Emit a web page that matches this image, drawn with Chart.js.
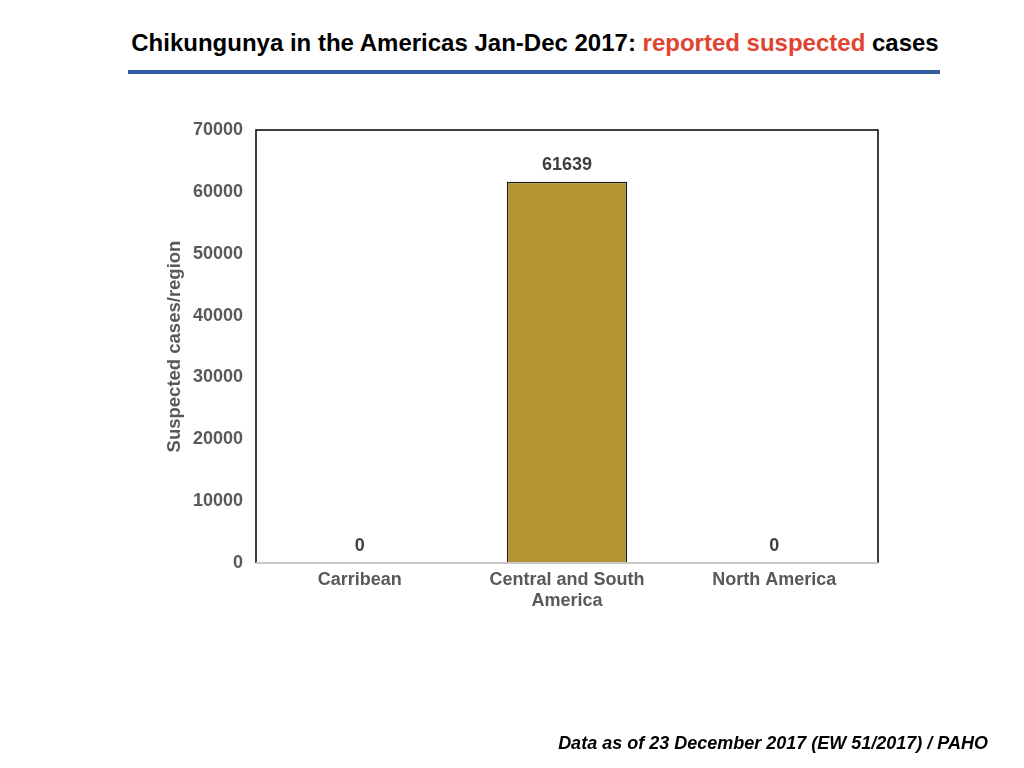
<!DOCTYPE html>
<html>
<head>
<meta charset="utf-8">
<script src="https://cdn.jsdelivr.net/npm/chart.js@4.4.0/dist/chart.umd.min.js"></script>
<style>
  html, body { margin: 0; padding: 0; background: #fff; }
  body { width: 1024px; height: 768px; position: relative; overflow: hidden; font-family: "Liberation Sans", Arial, sans-serif; }
  #title { position: absolute; top: 29px; left: 0; width: 1070px; text-align: center; font-size: 24px; font-weight: bold; color: #000; }
  #title span { color: #e2432f; }
  #rule { position: absolute; top: 70px; left: 128px; width: 812px; height: 4px; background: #2e5c9c; }
  #footer { position: absolute; top: 733px; right: 36px; font-size: 18px; font-weight: bold; font-style: italic; color: #000; }
  #chart { position: absolute; left: 0; top: 0; }
</style>
</head>
<body>
<div id="title">Chikungunya in the Americas Jan-Dec 2017: <span>reported suspected</span> cases</div>
<div id="rule"></div>
<canvas id="chart" width="1024" height="768"></canvas>
<div id="footer">Data as of 23 December 2017 (EW 51/2017) / PAHO</div>

<script>
// данные
const regions = [['Carribean'], ['Central and South', 'America'], ['North America']];
const cases = [0, 61639, 0];
const yTicks = [0, 10000, 20000, 30000, 40000, 50000, 60000, 70000];

const tickColor = '#595959';
const barColor = '#b59433';
const fontFamily = '"Liberation Sans", Arial, sans-serif';

// рамка области графика и подписи значений
const boxAndLabels = {
    id: 'boxAndLabels',
    afterDatasetsDraw(chart) {
        const { ctx, chartArea: a } = chart;
        ctx.save();
        ctx.strokeStyle = '#000';
        ctx.lineWidth = 1.5;
        ctx.beginPath();
        ctx.moveTo(a.left, a.bottom);
        ctx.lineTo(a.left, a.top);
        ctx.lineTo(a.right, a.top);
        ctx.lineTo(a.right, a.bottom);
        ctx.stroke();
        ctx.strokeStyle = '#c8c8c8';
        ctx.lineWidth = 2;
        ctx.beginPath();
        ctx.moveTo(a.left, a.bottom);
        ctx.lineTo(a.right, a.bottom);
        ctx.stroke();

        ctx.fillStyle = '#404040';
        ctx.font = 'bold 18px ' + fontFamily;
        ctx.textAlign = 'center';
        ctx.textBaseline = 'bottom';
        chart.getDatasetMeta(0).data.forEach((bar, i) => {
            ctx.fillText(String(cases[i]), bar.x, bar.y - 8);
        });
        ctx.restore();
    }
};

new Chart(document.getElementById('chart'), {
    type: 'bar',
    data: {
        labels: regions,
        datasets: [{
            data: cases,
            backgroundColor: barColor,
            borderColor: '#1a1a1a',
            borderWidth: 1.5,
            borderSkipped: 'bottom',
            categoryPercentage: 1,
            barPercentage: 0.58
        }]
    },
    options: {
        responsive: false,
        animation: false,
        devicePixelRatio: 1,
        layout: { padding: { left: 150, top: 130, right: 146, bottom: 145 } },
        plugins: { legend: { display: false }, tooltip: { enabled: false } },
        scales: {
            x: {
                grid: { display: false, drawTicks: false },
                border: { display: false },
                ticks: { color: tickColor, font: { size: 18, weight: 'bold', family: fontFamily }, padding: 6, maxRotation: 0 },
                afterFit(scale) { scale.height = 60; }
            },
            y: {
                min: 0,
                max: 70000,
                grid: { display: false, drawTicks: false },
                border: { display: false },
                afterBuildTicks(scale) { scale.ticks = yTicks.map(v => ({ value: v })); },
                ticks: {
                    color: tickColor,
                    font: { size: 18, weight: 'bold', family: fontFamily },
                    padding: 13,
                    callback: v => String(v)
                },
                title: {
                    display: true,
                    text: 'Suspected cases/region',
                    color: tickColor,
                    font: { size: 18.5, weight: 'bold', family: fontFamily },
                    padding: { top: 14, bottom: 0 }
                },
                afterFit(scale) { scale.width = 106; }
            }
        }
    },
    plugins: [boxAndLabels]
});
</script>
</body>
</html>
